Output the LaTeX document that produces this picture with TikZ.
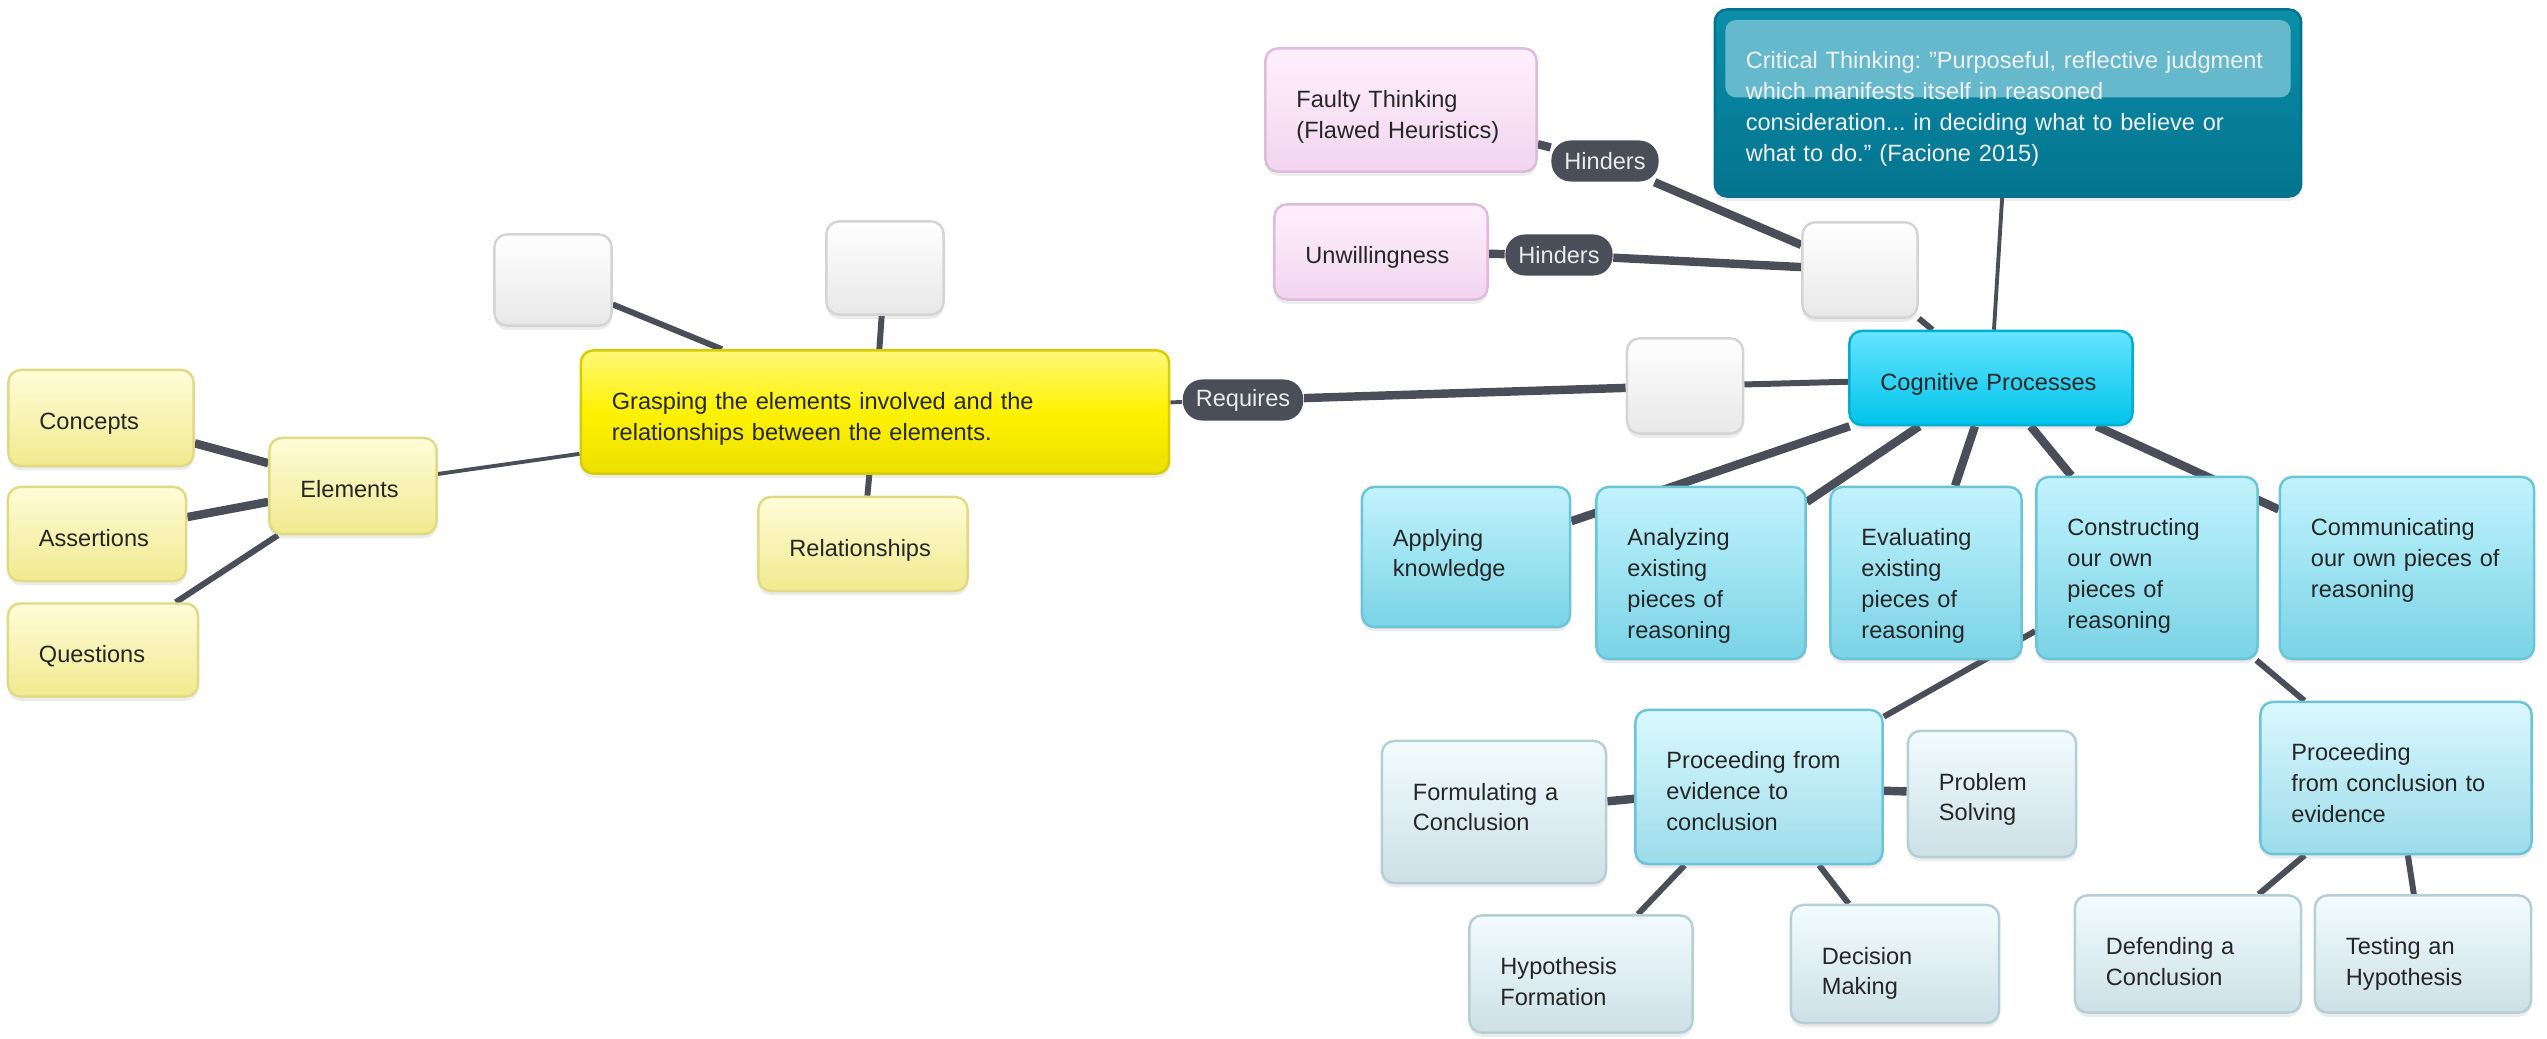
\documentclass[tikz,border=0pt]{standalone}
\usepackage{fontspec}
\setmainfont{Liberation Sans}
\usepackage{xcolor}
\usetikzlibrary{backgrounds, shadows, calc}
\frenchspacing
\newcommand{\stq}{\symbol{34}}

\definecolor{lnk}{HTML}{4A4E59}
\definecolor{txt}{HTML}{262626}
\definecolor{ylwTop}{HTML}{FFFCD8}
\definecolor{ylwBot}{HTML}{F0EA8E}
\definecolor{ylwLine}{HTML}{E0DA86}
\definecolor{grsTop}{HTML}{FFF878}
\definecolor{grsMid}{HTML}{FFF200}
\definecolor{grsBot}{HTML}{EBE000}
\definecolor{grsLine}{HTML}{D6CC00}
\definecolor{blkBot}{HTML}{E8E8E8}
\definecolor{blkLine}{HTML}{D4D4D4}
\definecolor{pnkTop}{HTML}{FFF0FE}
\definecolor{pnkBot}{HTML}{F1D5EE}
\definecolor{pnkLine}{HTML}{DDBBD9}
\definecolor{crtTop}{HTML}{0A8EA8}
\definecolor{crtBot}{HTML}{04748F}
\definecolor{crtLine}{HTML}{06718A}
\definecolor{crtGloss}{HTML}{66B9CC}
\definecolor{cogTop}{HTML}{66E4FF}
\definecolor{cogBot}{HTML}{00C4EA}
\definecolor{cogLine}{HTML}{00AED2}
\definecolor{bluTop}{HTML}{C2F3FD}
\definecolor{bluBot}{HTML}{79D3E5}
\definecolor{bluLine}{HTML}{6CC4D8}
\definecolor{prcTop}{HTML}{DAF8FE}
\definecolor{prcBot}{HTML}{9CDCEA}
\definecolor{lfTop}{HTML}{F2FCFF}
\definecolor{lfBot}{HTML}{CCE0E6}
\definecolor{lfLine}{HTML}{B6CED5}

\begin{document}
\begin{tikzpicture}[
  x=0.01cm, y=-0.01cm,
  mapbox/.style   = {rounded corners=3.5pt, line width=0.7pt, inner xsep=0.31cm,
                     inner ysep=0pt, align=left, text=txt,
                     font=\fontsize{6.7}{8.8}\selectfont,
                     drop shadow={shadow xshift=0pt, shadow yshift=-1.2pt,
                                  opacity=0.15}},
  boxht/.style    = {text height=0.59cm, text depth=#1cm-0.59cm},
  palenode/.style = {mapbox, top color=ylwTop, bottom color=ylwBot, draw=ylwLine},
  grspnode/.style = {mapbox, top color=grsTop, bottom color=grsBot,
                     middle color=grsMid, draw=grsLine},
  blanknode/.style= {mapbox, top color=white, bottom color=blkBot, draw=blkLine},
  pinknode/.style = {mapbox, top color=pnkTop, bottom color=pnkBot, draw=pnkLine},
  critnode/.style = {mapbox, top color=crtTop, bottom color=crtBot, draw=crtLine,
                     text=white!94!black,
                     path picture={\fill[crtGloss, rounded corners=3pt]
                       ([xshift=3pt, yshift=-3pt]path picture bounding box.north west)
                       rectangle ([xshift=-3pt]$(path picture bounding box.north east)
                       !0.47!(path picture bounding box.south east)$);}},
  cognode/.style  = {mapbox, top color=cogTop, bottom color=cogBot, draw=cogLine},
  bluenode/.style = {mapbox, top color=bluTop, bottom color=bluBot, draw=bluLine},
  procnode/.style = {mapbox, top color=prcTop, bottom color=prcBot, draw=bluLine},
  leafnode/.style = {mapbox, top color=lfTop, bottom color=lfBot, draw=lfLine},
  pill/.style     = {fill=lnk, text=white!92!black, rounded corners=5.5pt,
                     minimum height=0.41cm, inner xsep=0.13cm, inner ysep=0pt,
                     font=\fontsize{6.7}{8.8}\selectfont},
  lnthk/.style    = {draw=lnk, line width=2.4pt},
  lnmid/.style    = {draw=lnk, line width=1.7pt},
  lnthn/.style    = {draw=lnk, line width=1.1pt},
]
\useasboundingbox (0,0) rectangle (2547,1039);

%% ── Elements branch ───────────────────────────────────────────────
\node[palenode, text width=1.23cm, boxht=0.96] (concepts) at (101,418) {Concepts};
\node[palenode, text width=1.16cm, boxht=0.94] (assert)   at (97,534)  {Assertions};
\node[palenode, text width=1.28cm, boxht=0.93] (quest)    at (103,650) {Questions};
\node[palenode, text width=1.05cm, boxht=0.96] (elements) at (353,486) {Elements};

%% ── Grasping ──────────────────────────────────────────────────────
\node[grspnode, text width=5.26cm, boxht=1.23] (grasp) at (875,412)
  {Grasping the elements involved and the\\relationships between the elements.};
\node[palenode, text width=1.47cm, boxht=0.94] (relat) at (863,544) {Relationships};
\node[blanknode, minimum width=1.17cm, minimum height=0.91cm] (blankA) at (553,280) {};
\node[blanknode, minimum width=1.17cm, minimum height=0.93cm] (blankB) at (885,268) {};
\node[pill] (req) at (1243,400) {Requires};

%% ── Cognitive processes ───────────────────────────────────────────
\node[blanknode, minimum width=1.16cm, minimum height=0.95cm] (blankC) at (1685,386) {};
\node[blanknode, minimum width=1.15cm, minimum height=0.95cm] (blankD) at (1860,270) {};
\node[cognode, text width=2.21cm, boxht=0.94] (cogn) at (1991,378) {Cognitive Processes};
\node[critnode, text width=5.24cm, boxht=1.87] (crit) at (2008,103)
  {Critical Thinking: \stq Purposeful, reflective judgment\\which manifests itself in reasoned\\
   consideration... in deciding what to believe or\\what to do.\stq\ (Facione 2015)};

%% ── Hindrances ────────────────────────────────────────────────────
\node[pinknode, text width=2.09cm, boxht=1.23] (faulty) at (1401,110)
  {Faulty Thinking\\(Flawed Heuristics)};
\node[pinknode, text width=1.51cm, boxht=0.95] (unwill) at (1381,252) {Unwillingness};
\node[pill] (hindA) at (1605,161) {Hinders};
\node[pill] (hindB) at (1559,255) {Hinders};

%% ── Process row ───────────────────────────────────────────────────
\node[bluenode, text width=1.46cm, boxht=1.40] (apply)  at (1466,557) {Applying\\knowledge};
\node[bluenode, text width=1.47cm, boxht=1.72] (analyz) at (1701,573)
  {Analyzing\\existing\\pieces of\\reasoning};
\node[bluenode, text width=1.29cm, boxht=1.72] (evalu)  at (1926,573)
  {Evaluating\\existing\\pieces of\\reasoning};
\node[bluenode, text width=1.59cm, boxht=1.82] (constr) at (2147,568)
  {Constructing\\our own\\pieces of\\reasoning};
\node[bluenode, text width=1.92cm, boxht=1.82] (commun) at (2407,568)
  {Communicating\\our own pieces of\\reasoning};

%% ── Proceeding branches ───────────────────────────────────────────
\node[procnode, text width=1.85cm, boxht=1.54] (procA) at (1759,787)
  {Proceeding from\\evidence to\\conclusion};
\node[leafnode, text width=1.62cm, boxht=1.42] (formul)  at (1494,812) {Formulating a\\Conclusion};
\node[leafnode, text width=1.06cm, boxht=1.26] (problem) at (1992,794) {Problem\\Solving};
\node[leafnode, text width=1.61cm, boxht=1.17] (hypoth)  at (1581,974) {Hypothesis\\Formation};
\node[leafnode, text width=1.46cm, boxht=1.18] (decis)   at (1895,964) {Decision\\Making};
\node[procnode, text width=2.09cm, boxht=1.52] (procB) at (2396,778)
  {Proceeding\\from conclusion to\\evidence};
\node[leafnode, text width=1.64cm, boxht=1.17] (defend)  at (2188,954) {Defending a\\Conclusion};
\node[leafnode, text width=1.54cm, boxht=1.17] (testing) at (2423,954) {Testing an\\Hypothesis};

%% ── Connectors ────────────────────────────────────────────────────
\begin{scope}[on background layer]
  \draw[lnthk] (concepts) -- (elements);
  \draw[lnthk] (assert)   -- (elements);
  \draw[lnmid] (quest)    -- (elements);
  \draw[lnthn] (elements) -- (grasp);
  \draw[lnmid] (blankA)   -- (grasp);
  \draw[lnmid] (blankB)   -- (grasp);
  \draw[lnmid] (grasp)    -- (relat);
  \draw[lnthn] (grasp)    -- (req);
  \draw[lnthk] (req)      -- (blankC);
  \draw[lnmid] (blankC)   -- (cogn);
  \draw[lnmid] (blankD)   -- (cogn);
  \draw[lnthn] (crit)     -- (cogn);
  \draw[lnthk] (faulty)   -- (hindA);
  \draw[lnthk] (hindA)    -- (blankD);
  \draw[lnthk] (unwill)   -- (hindB);
  \draw[lnthk] (hindB)    -- (blankD);
  \foreach \nd in {apply, analyz, evalu, constr, commun}
    \draw[lnthk] (cogn) -- (\nd);
  \draw[lnmid] (constr) -- (procA);
  \draw[lnmid] (constr) -- (procB);
  \draw[lnthk] (procA)  -- (formul);
  \draw[lnthk] (procA)  -- (problem);
  \draw[lnmid] (procA)  -- (hypoth);
  \draw[lnmid] (procA)  -- (decis);
  \draw[lnmid] (procB)  -- (defend);
  \draw[lnmid] (procB)  -- (testing);
\end{scope}

\end{tikzpicture}
\end{document}
